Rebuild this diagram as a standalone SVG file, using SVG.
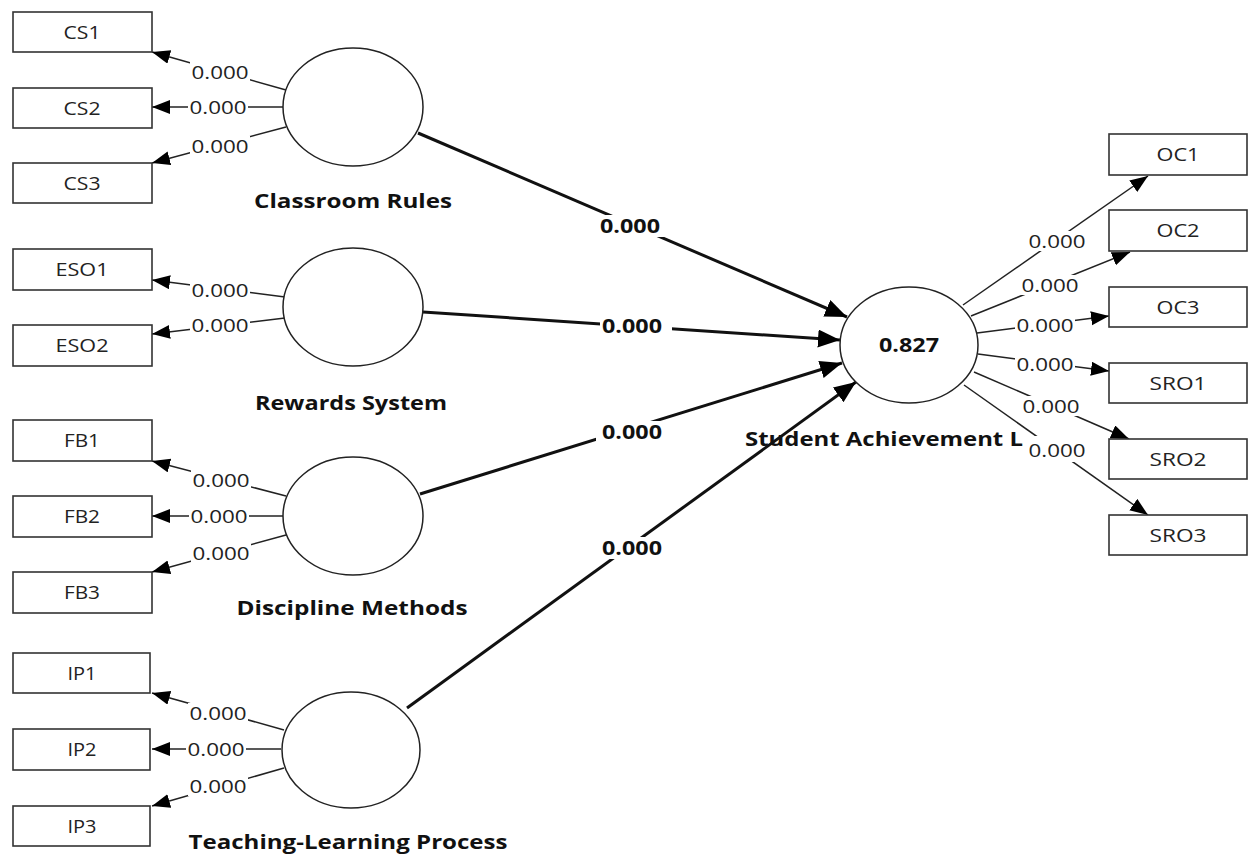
<svg xmlns="http://www.w3.org/2000/svg" width="1249" height="854" viewBox="0 0 1249 854">
<style>
.box{fill:#fff;stroke:#333;stroke-width:1.6}
.ell{fill:#fff;stroke:#222;stroke-width:1.5}
.bt{font-family:"Open Sans","Noto Sans",sans-serif;font-size:19px;fill:#222;text-anchor:middle}
.nl{font-family:"Open Sans","Noto Sans",sans-serif;font-size:19px;font-weight:bold;fill:#111}
.thin{stroke:#222;stroke-width:1.5;fill:none;marker-end:url(#ah)}
.thick{stroke:#111;stroke-width:3;fill:none;marker-end:url(#ahb)}
.lb{fill:#fff}
.lt{font-family:"Open Sans","Noto Sans",sans-serif;font-size:19px;fill:#222;text-anchor:middle}
.lbt{font-family:"Open Sans","Noto Sans",sans-serif;font-size:19px;font-weight:bold;fill:#111;text-anchor:middle}
</style>
<defs>
<marker id="ah" markerUnits="userSpaceOnUse" markerWidth="20" markerHeight="16" refX="18" refY="7" orient="auto"><path d="M0,0 L18,7 L0,14 Z" fill="#000"/></marker>
<marker id="ahb" markerUnits="userSpaceOnUse" markerWidth="24" markerHeight="20" refX="22" refY="9" orient="auto"><path d="M0,0 L22,9 L0,18 Z" fill="#000"/></marker>
</defs>
<rect width="1249" height="854" fill="#fff"/>

<g id="connectors">
<line class="thin" x1="286" y1="90" x2="152" y2="52"/>
<line class="thin" x1="283" y1="107" x2="152" y2="107"/>
<line class="thin" x1="286" y1="127" x2="152" y2="163"/>
<line class="thin" x1="285" y1="297" x2="152" y2="280"/>
<line class="thin" x1="285" y1="318" x2="152" y2="334"/>
<line class="thin" x1="286" y1="496" x2="152" y2="461"/>
<line class="thin" x1="283" y1="516" x2="152" y2="516"/>
<line class="thin" x1="286" y1="535" x2="152" y2="572"/>
<line class="thin" x1="284" y1="730" x2="152" y2="693"/>
<line class="thin" x1="281" y1="749" x2="152" y2="749"/>
<line class="thin" x1="284" y1="768" x2="152" y2="806"/>

<line class="thick" x1="418" y1="133" x2="847" y2="317"/>
<line class="thick" x1="423" y1="312" x2="840" y2="340"/>
<line class="thick" x1="420" y1="494" x2="842" y2="363"/>
<line class="thick" x1="407" y1="708" x2="856" y2="382"/>

<line class="thin" x1="963" y1="305" x2="1148" y2="176"/>
<line class="thin" x1="971" y1="316" x2="1130" y2="252"/>
<line class="thin" x1="977" y1="333" x2="1109" y2="316"/>
<line class="thin" x1="978" y1="354" x2="1109" y2="371"/>
<line class="thin" x1="974" y1="372" x2="1129" y2="439"/>
<line class="thin" x1="964" y1="385" x2="1148" y2="515"/>
</g>

<g id="cs1"><rect class="box" x="13" y="12" width="139" height="40"/><text class="bt" x="82" y="39" textLength="37" lengthAdjust="spacingAndGlyphs">CS1</text></g>
<g id="cs2"><rect class="box" x="13" y="88" width="139" height="40"/><text class="bt" x="82" y="115" textLength="37" lengthAdjust="spacingAndGlyphs">CS2</text></g>
<g id="cs3"><rect class="box" x="13" y="163" width="139" height="40"/><text class="bt" x="82" y="190" textLength="37" lengthAdjust="spacingAndGlyphs">CS3</text></g>
<g id="eso1"><rect class="box" x="13" y="249" width="139" height="41"/><text class="bt" x="82" y="276" textLength="53" lengthAdjust="spacingAndGlyphs">ESO1</text></g>
<g id="eso2"><rect class="box" x="13" y="325" width="139" height="41"/><text class="bt" x="82" y="352" textLength="53" lengthAdjust="spacingAndGlyphs">ESO2</text></g>
<g id="fb1"><rect class="box" x="13" y="420" width="139" height="41"/><text class="bt" x="82" y="447" textLength="36" lengthAdjust="spacingAndGlyphs">FB1</text></g>
<g id="fb2"><rect class="box" x="13" y="496" width="139" height="41"/><text class="bt" x="82" y="523" textLength="36" lengthAdjust="spacingAndGlyphs">FB2</text></g>
<g id="fb3"><rect class="box" x="13" y="572" width="139" height="41"/><text class="bt" x="82" y="599" textLength="36" lengthAdjust="spacingAndGlyphs">FB3</text></g>
<g id="ip1"><rect class="box" x="13" y="653" width="137" height="40"/><text class="bt" x="82" y="680" textLength="29" lengthAdjust="spacingAndGlyphs">IP1</text></g>
<g id="ip2"><rect class="box" x="13" y="729" width="137" height="41"/><text class="bt" x="82" y="756" textLength="29" lengthAdjust="spacingAndGlyphs">IP2</text></g>
<g id="ip3"><rect class="box" x="13" y="806" width="137" height="40"/><text class="bt" x="82" y="833" textLength="29" lengthAdjust="spacingAndGlyphs">IP3</text></g>

<g id="oc1"><rect class="box" x="1109" y="134" width="138" height="41"/><text class="bt" x="1178" y="161" textLength="43" lengthAdjust="spacingAndGlyphs">OC1</text></g>
<g id="oc2"><rect class="box" x="1109" y="210" width="138" height="41"/><text class="bt" x="1178" y="237" textLength="43" lengthAdjust="spacingAndGlyphs">OC2</text></g>
<g id="oc3"><rect class="box" x="1109" y="287" width="138" height="40"/><text class="bt" x="1178" y="314" textLength="43" lengthAdjust="spacingAndGlyphs">OC3</text></g>
<g id="sro1"><rect class="box" x="1109" y="363" width="138" height="40"/><text class="bt" x="1178" y="390" textLength="57" lengthAdjust="spacingAndGlyphs">SRO1</text></g>
<g id="sro2"><rect class="box" x="1109" y="439" width="138" height="40"/><text class="bt" x="1178" y="466" textLength="57" lengthAdjust="spacingAndGlyphs">SRO2</text></g>
<g id="sro3"><rect class="box" x="1109" y="515" width="138" height="40"/><text class="bt" x="1178" y="542" textLength="57" lengthAdjust="spacingAndGlyphs">SRO3</text></g>

<g id="classroom-rules"><ellipse class="ell" cx="353" cy="107" rx="70" ry="59"/><text class="nl" x="353" y="208" text-anchor="middle" textLength="198" lengthAdjust="spacingAndGlyphs">Classroom Rules</text></g>
<g id="rewards-system"><ellipse class="ell" cx="353" cy="307" rx="70" ry="59"/><text class="nl" x="351" y="410" text-anchor="middle" textLength="192" lengthAdjust="spacingAndGlyphs">Rewards System</text></g>
<g id="discipline-methods"><ellipse class="ell" cx="353" cy="516" rx="70" ry="59"/><text class="nl" x="352" y="615" text-anchor="middle" textLength="231" lengthAdjust="spacingAndGlyphs">Discipline Methods</text></g>
<g id="teaching-learning"><ellipse class="ell" cx="351" cy="750" rx="69" ry="58"/><text class="nl" x="348" y="849" text-anchor="middle" textLength="319" lengthAdjust="spacingAndGlyphs">Teaching-Learning Process</text></g>
<g id="student-achievement"><ellipse class="ell" cx="909" cy="345" rx="69" ry="58"/><text class="nl" x="909" y="352" text-anchor="middle" textLength="60" lengthAdjust="spacingAndGlyphs">0.827</text><text class="nl" x="745" y="446" textLength="278" lengthAdjust="spacingAndGlyphs">Student Achievement L</text></g>

<g id="labels">
<rect class="lb" x="190" y="62" width="60" height="20"/><text class="lt" x="220" y="79" textLength="57" lengthAdjust="spacingAndGlyphs">0.000</text>
<rect class="lb" x="188" y="97" width="60" height="20"/><text class="lt" x="218" y="114" textLength="57" lengthAdjust="spacingAndGlyphs">0.000</text>
<rect class="lb" x="190" y="136" width="60" height="20"/><text class="lt" x="220" y="153" textLength="57" lengthAdjust="spacingAndGlyphs">0.000</text>
<rect class="lb" x="190" y="280" width="60" height="20"/><text class="lt" x="220" y="297" textLength="57" lengthAdjust="spacingAndGlyphs">0.000</text>
<rect class="lb" x="190" y="315" width="60" height="20"/><text class="lt" x="220" y="332" textLength="57" lengthAdjust="spacingAndGlyphs">0.000</text>
<rect class="lb" x="191" y="470" width="60" height="20"/><text class="lt" x="221" y="487" textLength="57" lengthAdjust="spacingAndGlyphs">0.000</text>
<rect class="lb" x="189" y="506" width="60" height="20"/><text class="lt" x="219" y="523" textLength="57" lengthAdjust="spacingAndGlyphs">0.000</text>
<rect class="lb" x="191" y="543" width="60" height="20"/><text class="lt" x="221" y="560" textLength="57" lengthAdjust="spacingAndGlyphs">0.000</text>
<rect class="lb" x="188" y="703" width="60" height="20"/><text class="lt" x="218" y="720" textLength="57" lengthAdjust="spacingAndGlyphs">0.000</text>
<rect class="lb" x="186" y="739" width="60" height="20"/><text class="lt" x="216" y="756" textLength="57" lengthAdjust="spacingAndGlyphs">0.000</text>
<rect class="lb" x="188" y="776" width="60" height="20"/><text class="lt" x="218" y="793" textLength="57" lengthAdjust="spacingAndGlyphs">0.000</text>

<rect class="lb" x="601" y="215" width="72" height="22"/><text class="lbt" x="630" y="233" textLength="60" lengthAdjust="spacingAndGlyphs">0.000</text>
<rect class="lb" x="600" y="315" width="72" height="22"/><text class="lbt" x="632" y="333" textLength="60" lengthAdjust="spacingAndGlyphs">0.000</text>
<rect class="lb" x="596" y="421" width="72" height="22"/><text class="lbt" x="632" y="439" textLength="60" lengthAdjust="spacingAndGlyphs">0.000</text>
<rect class="lb" x="596" y="537" width="72" height="22"/><text class="lbt" x="632" y="555" textLength="60" lengthAdjust="spacingAndGlyphs">0.000</text>

<rect class="lb" x="1027" y="231" width="60" height="20"/><text class="lt" x="1057" y="248" textLength="57" lengthAdjust="spacingAndGlyphs">0.000</text>
<rect class="lb" x="1020" y="275" width="60" height="20"/><text class="lt" x="1050" y="292" textLength="57" lengthAdjust="spacingAndGlyphs">0.000</text>
<rect class="lb" x="1015" y="315" width="60" height="20"/><text class="lt" x="1045" y="332" textLength="57" lengthAdjust="spacingAndGlyphs">0.000</text>
<rect class="lb" x="1015" y="354" width="60" height="20"/><text class="lt" x="1045" y="371" textLength="57" lengthAdjust="spacingAndGlyphs">0.000</text>
<rect class="lb" x="1021" y="396" width="60" height="20"/><text class="lt" x="1051" y="413" textLength="57" lengthAdjust="spacingAndGlyphs">0.000</text>
<rect class="lb" x="1026" y="436" width="62" height="26"/><text class="lt" x="1057" y="457" textLength="57" lengthAdjust="spacingAndGlyphs">0.000</text>
</g>
</svg>
